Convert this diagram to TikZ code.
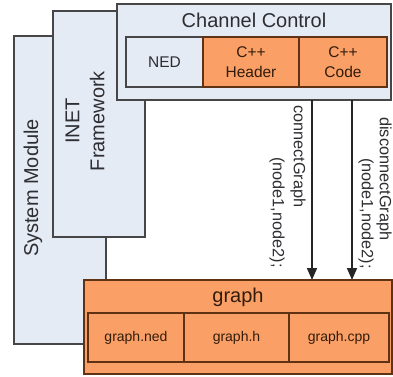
\documentclass[tikz,border=0pt]{standalone}
\usepackage{fontspec}
\setmainfont{Liberation Sans}
\usetikzlibrary{arrows.meta}
\definecolor{lightbox}{RGB}{229,235,245}
\definecolor{orangebox}{RGB}{250,160,102}
\definecolor{grayline}{RGB}{70,70,72}
\definecolor{brownline}{RGB}{95,50,20}
\definecolor{darktext}{RGB}{45,45,50}
\definecolor{browntext}{RGB}{50,28,12}
\begin{document}
\begin{tikzpicture}[x=1pt,y=-1pt,
  lbox/.style={draw=grayline,fill=lightbox,line width=1.3pt,inner sep=0pt,outer sep=0pt,rectangle},
  obox/.style={draw=brownline,fill=orangebox,line width=1.3pt,inner sep=0pt,outer sep=0pt,rectangle},
  bigtext/.style={font=\fontsize{20}{25}\selectfont,text=darktext,inner sep=0pt,align=center},
  midtext/.style={font=\fontsize{15.5}{20}\selectfont,text=darktext,align=center},
  smalltext/.style={font=\fontsize{14}{17}\selectfont,text=browntext},
  vlabel/.style={font=\fontsize{16.3}{20}\selectfont,text=darktext,inner sep=0pt,rotate=-90,anchor=west},
  callarrow/.style={line width=1.7pt,draw=black!85,-{Triangle[width=10pt,length=12pt]}}]
\useasboundingbox (0,0) rectangle (393,376);
% outer boxes
\node[lbox,minimum width=92pt,minimum height=308pt] (sys) at (60,190) {};
\node[bigtext,rotate=90] (systxt) at (33,188) {System Module};
\node[lbox,minimum width=92pt,minimum height=226pt] (inet) at (99,124) {};
\node[bigtext,rotate=90] (inettxt) at (85,121) {INET\\Framework};
\node[lbox,minimum width=274pt,minimum height=96pt] (chan) at (254,52) {};
\node[bigtext] (chantxt) at (254,20) {Channel Control};
\node[lbox,minimum width=77pt,minimum height=50pt,midtext] (ned) at (164.5,62) {NED};
\node[obox,minimum width=96pt,minimum height=50pt,midtext,text=browntext] (hdr) at (251,62) {C++\\Header};
\node[obox,minimum width=88pt,minimum height=50pt,midtext,text=browntext] (code) at (343,62) {C++\\Code};
% graph box
\node[obox,minimum width=308pt,minimum height=94pt] (graph) at (238,327) {};
\node[bigtext,text=browntext] (graphtxt) at (238,297) {graph};
\node[obox,minimum width=96pt,minimum height=49pt,smalltext] (gned) at (136,337.5) {graph.ned};
\node[obox,minimum width=105pt,minimum height=49pt,smalltext] (gh) at (236.5,337.5) {graph.h};
\node[obox,minimum width=100pt,minimum height=49pt,smalltext] (gcpp) at (339,337.5) {graph.cpp};
% calls
\coordinate (c1) at (312,150);
\coordinate (c2) at (352,150);
\draw[callarrow] (chan.south -| c1) -- (graph.north -| c1);
\draw[callarrow] (chan.south -| c2) -- (graph.north -| c2);
\node[vlabel] (l1a) at (298,105) {connectGraph};
\node[vlabel] (l1b) at (277,157) {(node1,node2);};
\node[vlabel] (l2a) at (384,117) {disconnectGraph};
\node[vlabel] (l2b) at (366,158) {(node1,node2);};
\end{tikzpicture}
\end{document}
